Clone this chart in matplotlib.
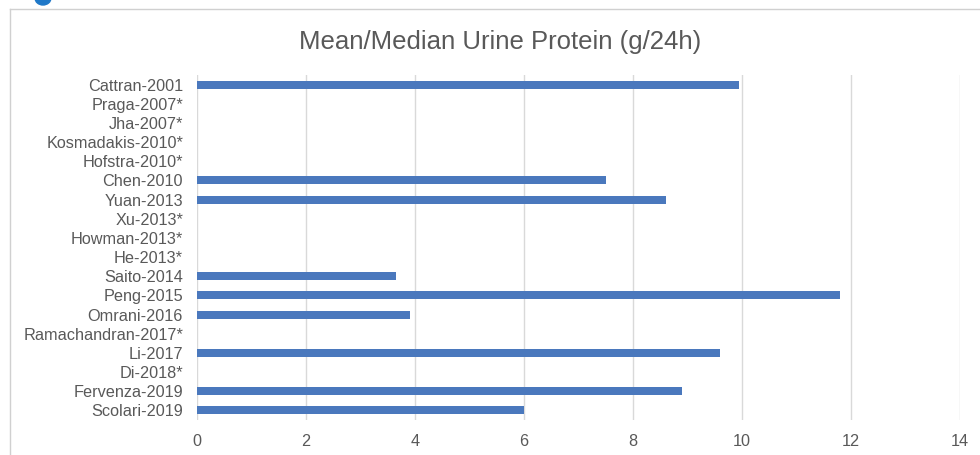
import matplotlib
matplotlib.use('Agg')
import matplotlib.pyplot as plt
from matplotlib.lines import Line2D
from matplotlib.patches import Ellipse

studies = ["Cattran-2001", "Praga-2007*", "Jha-2007*", "Kosmadakis-2010*",
           "Hofstra-2010*", "Chen-2010", "Yuan-2013", "Xu-2013*", "Howman-2013*",
           "He-2013*", "Saito-2014", "Peng-2015", "Omrani-2016",
           "Ramachandran-2017*", "Li-2017", "Di-2018*", "Fervenza-2019",
           "Scolari-2019"]
protein = [9.95, 0, 0, 0, 0, 7.5, 8.6, 0, 0, 0, 3.65, 11.8, 3.9, 0, 9.6, 0, 8.9, 6.0]
xticks = [0, 2, 4, 6, 8, 10, 12, 14]

plt.rcParams['font.family'] = ['Liberation Sans', 'DejaVu Sans']
grey = '#595959'

fig = plt.figure(figsize=(9.8, 4.55), dpi=100)
ax = fig.add_axes([197 / 980, 1 - 420 / 455, 763 / 980, 345 / 455])

pos = list(range(len(studies)))[::-1]
ax.barh(pos, protein, height=0.42, color='#4a78bd', zorder=3)

ax.set_yticks(pos)
ax.set_yticklabels(studies, fontsize=11.7, color=grey)
ax.set_ylim(-0.5, len(studies) - 0.5)
ax.set_xlim(0, 14)
ax.set_xticks(xticks)
ax.set_xticklabels([str(v) for v in xticks], fontsize=11.7, color=grey)
ax.tick_params(axis='both', length=0)
ax.tick_params(axis='y', pad=10)
ax.tick_params(axis='x', pad=10)
ax.grid(axis='x', color='#d9d9d9', linewidth=1, zorder=0)
for s in ax.spines.values():
    s.set_visible(False)

fig.text(500 / 980, 1 - 42 / 455, "Mean/Median Urine Protein (g/24h)",
         ha='center', va='center', fontsize=18.5, color=grey)

# chart frame edges and cropped figure badge
fig.add_artist(Line2D([10 / 980, 10 / 980], [0, 1 - 9 / 455],
                      transform=fig.transFigure, color='#d0d0d0', lw=1))
fig.add_artist(Line2D([10 / 980, 1], [1 - 9 / 455, 1 - 9 / 455],
                      transform=fig.transFigure, color='#d0d0d0', lw=1))
fig.add_artist(Ellipse((43 / 980, 1 + 2 / 455), 16 / 980, 14 / 455,
                       transform=fig.transFigure, color='#1f78c8'))

plt.savefig("out.png", dpi=100)
